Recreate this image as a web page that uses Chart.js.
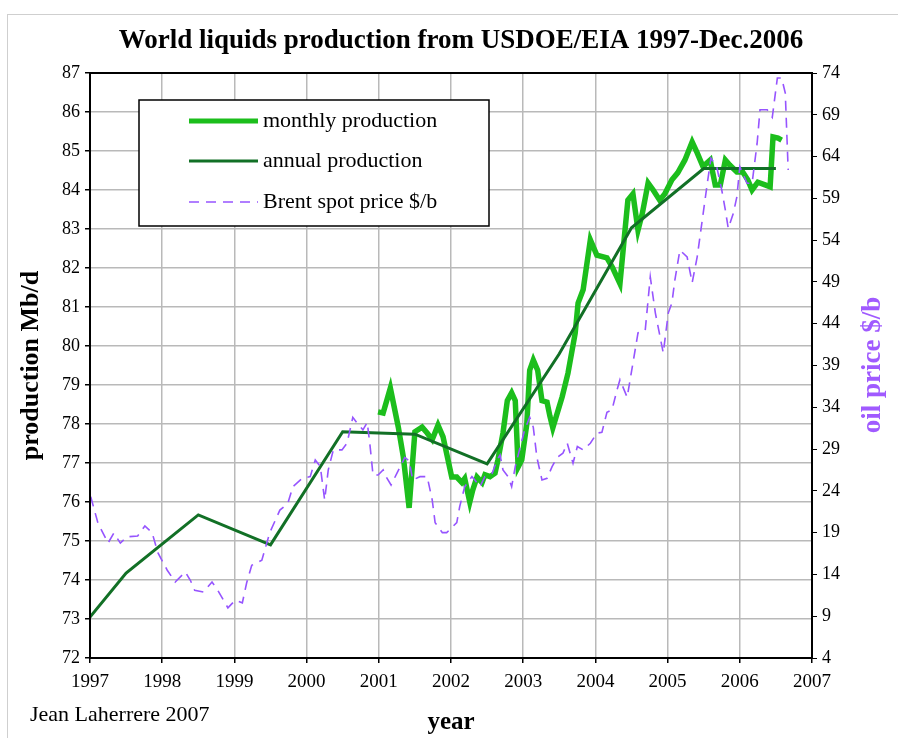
<!DOCTYPE html>
<html>
<head>
<meta charset="utf-8">
<script src="https://cdn.jsdelivr.net/npm/chart.js@4"></script>
<style>
  body { margin: 0; background: #fff; }
  canvas { display: block; }
</style>
</head>
<body>
<canvas id="oil_chart" width="898" height="738"></canvas>
<script>
// annual production, Mb/d (points at mid year)
const annual_years = [1997.0, 1997.5, 1998.5, 1999.5, 2000.5, 2001.5, 2002.5, 2003.5, 2004.5, 2005.5, 2006.5];
const annual_values = [73.05, 74.18, 75.67, 74.9, 77.8, 77.74, 76.98, 79.8, 83.03, 84.55, 84.55];

// monthly production, Mb/d
const monthly_years = [2000.99, 2001.06, 2001.16, 2001.27, 2001.34, 2001.42, 2001.5, 2001.6, 2001.67, 2001.74,
    2001.82, 2001.89, 2002.01, 2002.08, 2002.15, 2002.19, 2002.26, 2002.30, 2002.36, 2002.43,
    2002.47, 2002.54, 2002.61, 2002.65, 2002.72, 2002.78, 2002.84, 2002.89, 2002.93, 2002.98,
    2003.05, 2003.09, 2003.14, 2003.2, 2003.26, 2003.33, 2003.37, 2003.41, 2003.54, 2003.62,
    2003.72, 2003.76, 2003.83, 2003.93, 2004.02, 2004.16, 2004.24, 2004.34, 2004.41, 2004.45,
    2004.52, 2004.59, 2004.65, 2004.73, 2004.8, 2004.89, 2004.96, 2005.06, 2005.14, 2005.24,
    2005.34, 2005.41, 2005.49, 2005.59, 2005.66, 2005.73, 2005.8, 2005.86, 2005.96, 2006.04,
    2006.11, 2006.17, 2006.25, 2006.35, 2006.42, 2006.46, 2006.53, 2006.58];
const monthly_values = [78.31, 78.28, 78.92, 77.92, 77.15, 75.85, 77.8, 77.92, 77.77, 77.6,
    77.97, 77.67, 76.64, 76.64, 76.5, 76.6, 76.0, 76.3, 76.64, 76.5,
    76.7, 76.65, 76.74, 77.08, 77.77, 78.6, 78.8, 78.6, 76.9, 77.08,
    78.0, 79.38, 79.64, 79.38, 78.6, 78.56, 78.2, 77.9, 78.7, 79.3,
    80.33, 81.1, 81.44, 82.72, 82.33, 82.26, 82.0, 81.6, 82.97, 83.74,
    83.9, 82.97, 83.4, 84.18, 84.0, 83.74, 83.9, 84.26, 84.44, 84.77,
    85.23, 84.95, 84.6, 84.77, 84.13, 84.13, 84.77, 84.64, 84.46, 84.46,
    84.26, 84.0, 84.2, 84.13, 84.08, 85.36, 85.33, 85.28];

// Brent spot price $/b
const brent_years = [1997.01, 1997.11, 1997.25, 1997.33, 1997.42, 1997.51, 1997.66, 1997.76, 1997.86, 1997.94,
    1998.07, 1998.18, 1998.32, 1998.39, 1998.45, 1998.57, 1998.69, 1998.77, 1998.91, 1999.01,
    1999.11, 1999.17, 1999.24, 1999.38, 1999.49, 1999.63, 1999.74, 1999.81, 1999.94, 2000.05,
    2000.12, 2000.19, 2000.25, 2000.3, 2000.37, 2000.49, 2000.56, 2000.64, 2000.71, 2000.78,
    2000.84, 2000.88, 2000.92, 2000.99, 2001.06, 2001.1, 2001.17, 2001.25, 2001.36, 2001.42,
    2001.47, 2001.57, 2001.67, 2001.74, 2001.78, 2001.88, 2001.94, 2002.08, 2002.12, 2002.19,
    2002.29, 2002.33, 2002.4, 2002.47, 2002.57, 2002.64, 2002.68, 2002.72, 2002.79, 2002.84,
    2002.89, 2002.96, 2003.02, 2003.09, 2003.14, 2003.19, 2003.26, 2003.33, 2003.4, 2003.47,
    2003.55, 2003.61, 2003.65, 2003.69, 2003.75, 2003.83, 2003.93, 2004.02, 2004.09, 2004.16,
    2004.23, 2004.3, 2004.34, 2004.44, 2004.52, 2004.59, 2004.69, 2004.76, 2004.83, 2004.94,
    2005.01, 2005.06, 2005.1, 2005.17, 2005.27, 2005.34, 2005.41, 2005.48, 2005.55, 2005.6,
    2005.68, 2005.75, 2005.8, 2005.84, 2005.91, 2005.96, 2006.0, 2006.04, 2006.1, 2006.17,
    2006.24, 2006.28, 2006.38, 2006.45, 2006.52, 2006.58, 2006.63, 2006.67];
const brent_values = [23.3, 20.15, 17.75, 18.95, 17.75, 18.5, 18.6, 19.8, 19.0, 16.6,
    14.5, 13.1, 14.3, 13.3, 12.1, 11.9, 13.1, 12.1, 10.0, 10.9,
    10.6, 13.0, 15.1, 15.7, 19.0, 21.7, 22.5, 24.5, 25.5, 25.7,
    27.7, 26.9, 22.9, 26.5, 28.9, 28.9, 29.7, 32.8, 32.0, 31.3,
    32.2, 29.3, 25.9, 25.9, 26.5, 25.7, 24.7, 26.1, 28.0, 27.6,
    25.3, 25.7, 25.7, 22.9, 20.2, 19.0, 19.0, 20.2, 22.1, 24.5,
    25.7, 25.3, 24.5, 25.7, 26.1, 27.7, 28.3, 26.5, 25.7, 24.5,
    26.9, 29.3, 31.3, 32.8, 31.6, 28.0, 25.3, 25.5, 26.9, 28.0,
    28.5, 29.7, 28.5, 27.3, 29.3, 28.9, 29.7, 30.9, 31.0, 33.4,
    33.7, 36.1, 37.3, 35.2, 39.3, 42.9, 43.2, 49.6, 45.3, 40.5,
    45.3, 46.5, 49.2, 52.8, 52.0, 48.9, 52.0, 56.4, 60.8, 63.8,
    62.8, 60.0, 57.6, 55.4, 57.2, 59.2, 62.8, 62.0, 60.8, 60.8,
    65.6, 69.6, 69.6, 68.7, 73.4, 73.4, 71.6, 62.4];

const series_names = ['monthly production', 'annual production', 'Brent spot price $/b'];
const color_lst = ['rgb(28, 190, 28)', 'rgb(18, 112, 38)', 'rgb(150, 84, 255)'];

const font_family = '"Liberation Serif", "DejaVu Serif", serif';
const grid_color = '#b9b9b9';

function to_points(xs, ys) {
    return xs.map((x, i) => ({x: x, y: ys[i]}));
}

// title, right axis title, legend box, credit and frames
const decor_plugin = {
    id: 'decor',
    afterDraw(chart) {
        const ctx = chart.ctx;
        const area = chart.chartArea;
        ctx.save();

        ctx.strokeStyle = '#cfcfcf';
        ctx.lineWidth = 1;
        ctx.strokeRect(7.5, 14.5, 1000, 1000);

        ctx.strokeStyle = '#000';
        ctx.lineWidth = 2;
        ctx.strokeRect(area.left, area.top, area.right - area.left, area.bottom - area.top);

        ctx.fillStyle = '#000';
        ctx.textBaseline = 'middle';
        ctx.textAlign = 'center';
        ctx.font = 'bold 27px ' + font_family;
        ctx.fillText('World liquids production from USDOE/EIA 1997-Dec.2006', 461, 41);

        ctx.textAlign = 'left';
        ctx.font = '22px ' + font_family;
        ctx.fillText('Jean Laherrere 2007', 30, 715);

        // right axis title reads bottom to top
        ctx.save();
        ctx.translate(873, 365);
        ctx.rotate(-Math.PI / 2);
        ctx.textAlign = 'center';
        ctx.fillStyle = 'rgb(160, 90, 255)';
        ctx.font = 'bold 27px ' + font_family;
        ctx.fillText('oil price $/b', 0, 0);
        ctx.restore();

        // legend
        ctx.fillStyle = '#fff';
        ctx.fillRect(139, 100, 350, 126);
        ctx.strokeStyle = '#000';
        ctx.lineWidth = 1.5;
        ctx.strokeRect(139, 100, 350, 126);

        const rows = [121, 161, 202];
        const widths = [5, 3, 1.6];
        for (let i = 0; i < 3; i++) {
            ctx.beginPath();
            ctx.setLineDash(i === 2 ? [10, 7] : []);
            ctx.strokeStyle = color_lst[i];
            ctx.lineWidth = widths[i];
            ctx.moveTo(189, rows[i]);
            ctx.lineTo(258, rows[i]);
            ctx.stroke();
            ctx.setLineDash([]);
            ctx.fillStyle = '#000';
            ctx.font = '22px ' + font_family;
            ctx.textAlign = 'left';
            ctx.fillText(series_names[i], 263, rows[i]);
        }
        ctx.restore();
    }
};

const ctx_oil = document.querySelector('#oil_chart').getContext('2d');

new Chart(ctx_oil, {
    type: 'line',
    data: {
        datasets: [
            {
                label: series_names[2],
                data: to_points(brent_years, brent_values),
                yAxisID: 'y2',
                borderColor: color_lst[2],
                borderWidth: 1.6,
                borderDash: [10, 7],
                pointRadius: 0,
                tension: 0,
                order: 0
            },
            {
                label: series_names[1],
                data: to_points(annual_years, annual_values),
                yAxisID: 'y',
                borderColor: color_lst[1],
                borderWidth: 3,
                pointRadius: 0,
                tension: 0,
                order: 1
            },
            {
                label: series_names[0],
                data: to_points(monthly_years, monthly_values),
                yAxisID: 'y',
                borderColor: color_lst[0],
                borderWidth: 5.5,
                pointRadius: 0,
                tension: 0,
                order: 2
            }
        ]
    },
    options: {
        responsive: false,
        animation: false,
        layout: {
            padding: {top: 73, left: 0, right: 0, bottom: 0}
        },
        plugins: {
            legend: {display: false},
            tooltip: {enabled: false}
        },
        scales: {
            x: {
                type: 'linear',
                min: 1997,
                max: 2007,
                afterFit: (s) => { s.height = 80; },
                ticks: {
                    stepSize: 1,
                    padding: 8,
                    color: '#000',
                    font: {family: font_family, size: 19},
                    callback: (v) => String(v)
                },
                grid: {color: grid_color, lineWidth: 1.5, tickLength: 5, tickColor: '#000'},
                border: {color: '#000', width: 2},
                title: {
                    display: true,
                    text: 'year',
                    color: '#000',
                    font: {family: font_family, size: 25, weight: 'bold'},
                    padding: {top: 0, bottom: 0}
                }
            },
            y: {
                position: 'left',
                min: 72,
                max: 87,
                afterFit: (s) => { s.width = 90; },
                ticks: {
                    stepSize: 1,
                    padding: 5,
                    color: '#000',
                    font: {family: font_family, size: 18}
                },
                grid: {color: grid_color, lineWidth: 1.5, tickLength: 5, tickColor: '#000'},
                border: {color: '#000', width: 2},
                title: {
                    display: true,
                    text: 'production Mb/d',
                    color: '#000',
                    font: {family: font_family, size: 26, weight: 'bold'},
                    padding: {top: 16, bottom: 0}
                }
            },
            y2: {
                position: 'right',
                min: 4,
                max: 74,
                afterFit: (s) => { s.width = 86; },
                ticks: {
                    stepSize: 5,
                    padding: 5,
                    color: '#000',
                    font: {family: font_family, size: 18}
                },
                grid: {drawOnChartArea: false, tickLength: 5, tickColor: '#000'},
                border: {color: '#000', width: 2}
            }
        }
    },
    plugins: [decor_plugin]
});
</script>
</body>
</html>
